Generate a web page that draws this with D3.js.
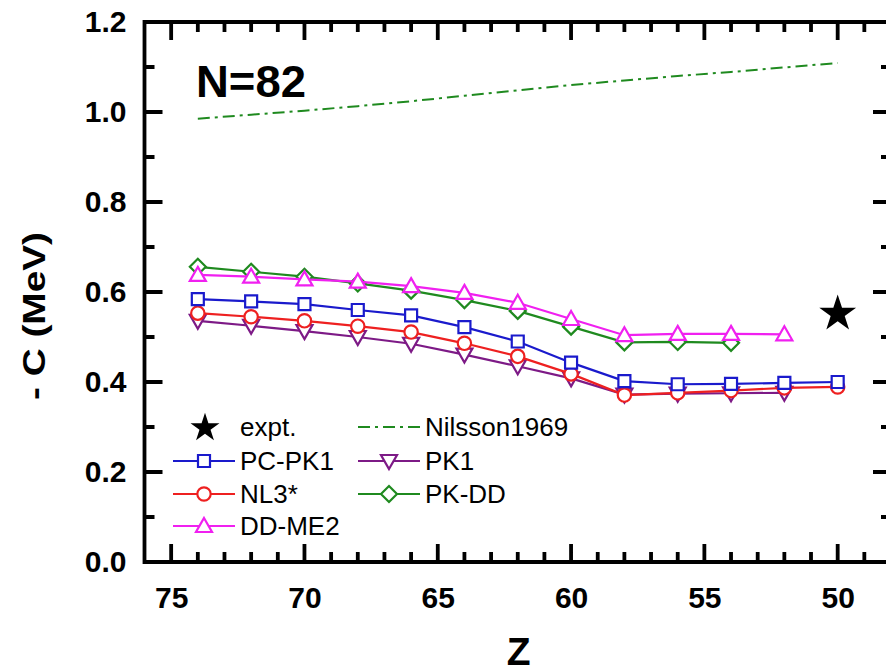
<!DOCTYPE html>
<html>
<head>
<meta charset="utf-8">
<script src="https://cdn.jsdelivr.net/npm/d3@7"></script>
<style>
  html, body { margin: 0; padding: 0; background: #fff; }
  svg { display: block; font-family: "Liberation Sans", Arial, sans-serif; }
</style>
</head>
<body>
<svg id="chart" width="886" height="669"></svg>
<script>
// ---- data ----
const Z = [74, 72, 70, 68, 66, 64, 62, 60, 58, 56, 54, 52, 50];
const pcpk1  = [0.584, 0.579, 0.573, 0.560, 0.548, 0.522, 0.490, 0.443, 0.402, 0.395, 0.396, 0.398, 0.400];
const nl3s   = [0.553, 0.545, 0.536, 0.524, 0.511, 0.486, 0.457, 0.418, 0.371, 0.376, 0.381, 0.387, 0.389];
const ddme2  = [0.638, 0.634, 0.628, 0.623, 0.613, 0.598, 0.576, 0.540, 0.504, 0.507, 0.507, 0.506, null];
const pk1    = [0.536, 0.525, 0.513, 0.500, 0.485, 0.461, 0.435, 0.408, 0.372, 0.374, 0.375, 0.376, null];
const pkdd   = [0.656, 0.645, 0.634, 0.619, 0.603, 0.582, 0.558, 0.523, 0.488, 0.489, 0.487, null, null];
const nilsson = [0.985, 0.994, 1.003, 1.013, 1.024, 1.036, 1.048, 1.060, 1.070, 1.080, 1.089, 1.099, 1.109];
const exptZ = [50];
const exptC = [0.556];
const xMajorTicks = [75, 70, 65, 60, 55, 50];
const xMinorTicks = [76, 74, 73, 72, 71, 69, 68, 67, 66, 64, 63, 62, 61, 59, 58, 57, 56, 54, 53, 52, 51, 49, 48];
const yMajorTicks = [0.0, 0.2, 0.4, 0.6, 0.8, 1.0, 1.2];
const yMinorTicks = [0.1, 0.3, 0.5, 0.7, 0.9, 1.1];

const series = [
  { name: "PK1",     values: pk1,   color: "#7d1a86", marker: "tridown" },
  { name: "PK-DD",   values: pkdd,  color: "#1f8a1f", marker: "diamond" },
  { name: "NL3*",    values: nl3s,  color: "#ee2020", marker: "circle" },
  { name: "DD-ME2",  values: ddme2, color: "#f020f0", marker: "triup" },
  { name: "PC-PK1",  values: pcpk1, color: "#1a1acc", marker: "square" }
];

// ---- layout ----
const svg = d3.select("#chart");
const L = 144.5, R = 891, T = 22, B = 562;
const x = d3.scaleLinear().domain([76, 48]).range([L, R]);
const y = d3.scaleLinear().domain([0, 1.2]).range([B, T]);

// ---- tick labels via d3 axes ----
const labelStyle = g => {
  g.select(".domain").remove();
  g.selectAll(".tick line").remove();
  g.selectAll(".tick text").attr("fill", "#000").attr("font-weight", "bold").attr("font-size", 30);
};
svg.append("g").attr("transform", `translate(0,${B})`)
  .call(d3.axisBottom(x).tickValues(xMajorTicks).tickSize(0).tickPadding(25).tickFormat(d3.format("d")))
  .call(labelStyle);
svg.append("g").attr("transform", `translate(${L},0)`)
  .call(d3.axisLeft(y).tickValues(yMajorTicks).tickSize(0).tickPadding(18).tickFormat(d3.format(".1f")))
  .call(labelStyle);

// ---- frame + inward ticks as one path ----
const p = d3.path();
p.moveTo(L, T); p.lineTo(R, T); p.lineTo(R, B); p.lineTo(L, B); p.closePath();
const xTicks = xMajorTicks.map(v => ({ v, len: 18 })).concat(xMinorTicks.map(v => ({ v, len: 10 })));
const yTicks = yMajorTicks.map(v => ({ v, len: 18 })).concat(yMinorTicks.map(v => ({ v, len: 10 })));
xTicks.forEach(d => {
  p.moveTo(x(d.v), B); p.lineTo(x(d.v), B - d.len);
  p.moveTo(x(d.v), T); p.lineTo(x(d.v), T + d.len);
});
yTicks.forEach(d => {
  p.moveTo(L, y(d.v)); p.lineTo(L + d.len, y(d.v));
  p.moveTo(R, y(d.v)); p.lineTo(R - d.len, y(d.v));
});
svg.append("path").attr("d", p.toString())
  .attr("fill", "none").attr("stroke", "#000").attr("stroke-width", 3.8);

// axis titles
svg.append("text").attr("x", (L + R) / 2 + 1).attr("y", 665)
  .attr("text-anchor", "middle").attr("font-weight", "bold").attr("font-size", 39).text("Z");
svg.append("text").attr("transform", "translate(45,316) rotate(-90)")
  .attr("text-anchor", "middle").attr("font-weight", "bold").attr("font-size", 31)
  .attr("textLength", 168).attr("lengthAdjust", "spacingAndGlyphs").text("- C (MeV)");

// N=82
svg.append("text").attr("x", 196).attr("y", 97).attr("font-weight", "bold").attr("font-size", 44)
  .attr("textLength", 110).attr("lengthAdjust", "spacingAndGlyphs").text("N=82");

// ---- markers ----
function markerPath(type) {
  switch (type) {
    case "square":  return "M-6,-6H6V6H-6Z";
    case "circle":  return d3.symbol().type(d3.symbolCircle).size(140)();
    case "triup":   return "M0,-8L8,6H-8Z";
    case "tridown": return "M0,8L8,-6H-8Z";
    case "diamond": return "M0,-8L8,0L0,8L-8,0Z";
  }
}

// Nilsson line
svg.append("path")
  .datum(Z.map((z, i) => [z, nilsson[i]]))
  .attr("fill", "none").attr("stroke", "#1f8a1f").attr("stroke-width", 2)
  .attr("stroke-dasharray", "12,5,3,5")
  .attr("d", d3.line().x(d => x(d[0])).y(d => y(d[1])));

const line = d3.line().x(d => x(d[0])).y(d => y(d[1]));
series.forEach(s => {
  const pts = Z.map((z, i) => [z, s.values[i]]).filter(d => d[1] != null);
  const g = svg.append("g");
  g.append("path").datum(pts).attr("fill", "none").attr("stroke", s.color).attr("stroke-width", 2.2)
    .attr("d", line);
  g.selectAll("path.m").data(pts).join("path").attr("class", "m")
    .attr("transform", d => `translate(${x(d[0])},${y(d[1])})`)
    .attr("d", markerPath(s.marker))
    .attr("fill", "#fff").attr("stroke", s.color).attr("stroke-width", 2.2);
});

// expt star
const star = d3.symbol().type(d3.symbolStar).size(420)();
svg.selectAll("path.expt").data(exptZ.map((z, i) => [z, exptC[i]])).join("path")
  .attr("class", "expt").attr("transform", d => `translate(${x(d[0])},${y(d[1]) + 2})`)
  .attr("d", star).attr("fill", "#000");

// ---- legend ----
const leg = svg.append("g").attr("font-size", 26);
const legendItems = [
  { name: "expt.", col: 0, row: 0, type: "star" },
  { name: "Nilsson1969", col: 1, row: 0, type: "dashdot", color: "#1f8a1f" },
  { name: "PC-PK1", col: 0, row: 1, type: "square", color: "#1a1acc" },
  { name: "PK1", col: 1, row: 1, type: "tridown", color: "#7d1a86" },
  { name: "NL3*", col: 0, row: 2, type: "circle", color: "#ee2020" },
  { name: "PK-DD", col: 1, row: 2, type: "diamond", color: "#1f8a1f" },
  { name: "DD-ME2", col: 0, row: 3, type: "triup", color: "#f020f0" }
];
const colX = [173, 358], rowY = [427, 461, 494, 526];
legendItems.forEach(it => {
  const x0 = colX[it.col], yy = rowY[it.row];
  const g = leg.append("g");
  if (it.type === "star") {
    g.append("path").attr("transform", `translate(${x0 + 32},${yy + 1})`)
      .attr("d", d3.symbol().type(d3.symbolStar).size(260)()).attr("fill", "#000");
  } else if (it.type === "dashdot") {
    g.append("line").attr("x1", x0).attr("x2", x0 + 62).attr("y1", yy).attr("y2", yy)
      .attr("stroke", it.color).attr("stroke-width", 2).attr("stroke-dasharray", "12,5,3,5");
  } else {
    g.append("line").attr("x1", x0).attr("x2", x0 + 62).attr("y1", yy).attr("y2", yy)
      .attr("stroke", it.color).attr("stroke-width", 2.2);
    g.append("path").attr("transform", `translate(${x0 + 31},${yy})`).attr("d", markerPath(it.type))
      .attr("fill", "#fff").attr("stroke", it.color).attr("stroke-width", 2.2);
  }
  g.append("text").attr("x", x0 + 67).attr("y", yy + 9).attr("fill", "#000").text(it.name);
});
</script>
</body>
</html>
